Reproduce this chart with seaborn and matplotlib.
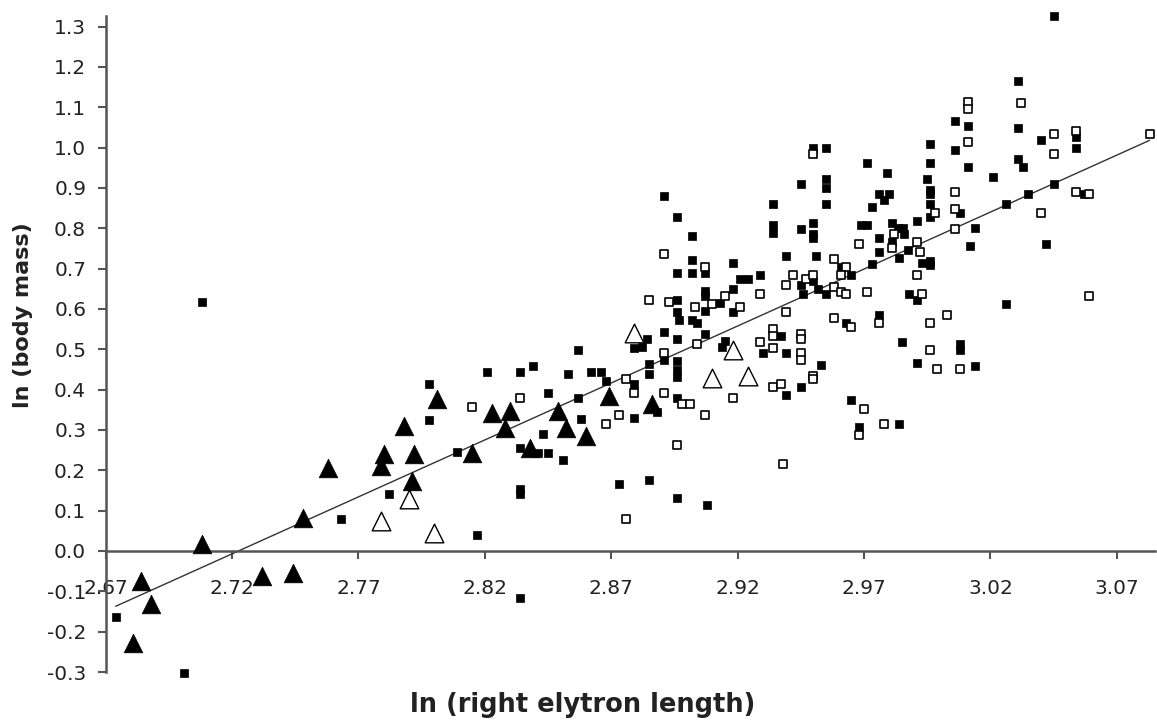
import matplotlib
matplotlib.use("Agg")
import matplotlib.pyplot as plt
import seaborn as sns
import numpy as np

# filled squares
sq_fill_x = [2.674, 2.708, 2.701, 2.763, 2.782, 2.798, 2.798, 2.809, 2.821, 2.834,
             2.839, 2.834, 2.834, 2.834, 2.817, 2.834, 2.845, 2.843, 2.841, 2.845,
             2.851, 2.857, 2.853, 2.862, 2.866, 2.857, 2.858, 2.868, 2.879, 2.879,
             2.873, 2.885, 2.884, 2.882, 2.879, 2.885, 2.885, 2.891, 2.891, 2.888,
             2.896, 2.896, 2.897, 2.902, 2.904, 2.907, 2.907, 2.913, 2.915, 2.918,
             2.914, 2.896, 2.896, 2.896, 2.896, 2.896, 2.896, 2.908, 2.891, 2.896,
             2.902, 2.902, 2.896, 2.902, 2.907, 2.907, 2.907, 2.918, 2.921, 2.924,
             2.918, 2.950, 2.955, 2.971, 2.979, 2.945, 2.955, 2.955, 2.976, 2.980,
             2.978, 2.934, 2.955, 2.973, 2.950, 2.934, 2.934, 2.945, 2.950, 2.950,
             2.969, 2.971, 2.981, 2.9835, 2.9855, 2.9858, 2.991, 2.976, 2.981, 2.976,
             2.984, 2.939, 2.951, 2.973, 2.965, 2.961, 2.929, 2.945, 2.950, 2.952,
             2.955, 2.946, 2.963, 2.976, 2.985, 2.937, 2.930, 2.939, 2.953, 2.945,
             2.939, 2.965, 2.968, 2.984, 3.045, 3.031, 3.031, 3.006, 3.011, 2.996,
             3.006, 3.040, 3.054, 3.054, 2.996, 3.011, 3.031, 3.033, 3.021, 2.995,
             2.996, 2.996, 2.996, 2.996, 3.008, 3.026, 3.035, 3.045, 3.057, 3.014,
             3.012, 3.042, 2.9875, 2.993, 2.996, 2.996, 2.988, 2.991, 3.026, 3.008,
             3.008, 2.991, 3.014]
sq_fill_y = [-0.164, 0.618, -0.303, 0.079, 0.141, 0.414, 0.325, 0.246, 0.444, 0.444,
             0.459, 0.256, 0.154, 0.141, 0.040, -0.117, 0.392, 0.290, 0.243, 0.243,
             0.226, 0.499, 0.439, 0.444, 0.444, 0.380, 0.328, 0.422, 0.415, 0.330,
             0.166, 0.176, 0.526, 0.506, 0.504, 0.464, 0.439, 0.544, 0.474, 0.345,
             0.623, 0.593, 0.573, 0.573, 0.564, 0.596, 0.539, 0.615, 0.521, 0.593,
             0.506, 0.526, 0.472, 0.449, 0.432, 0.380, 0.132, 0.114, 0.879, 0.829,
             0.782, 0.722, 0.690, 0.690, 0.690, 0.645, 0.633, 0.715, 0.673, 0.673,
             0.650, 0.998, 0.998, 0.961, 0.936, 0.909, 0.921, 0.901, 0.886, 0.884,
             0.871, 0.861, 0.861, 0.852, 0.814, 0.807, 0.789, 0.797, 0.787, 0.775,
             0.809, 0.809, 0.814, 0.800, 0.800, 0.785, 0.817, 0.777, 0.765, 0.742,
             0.727, 0.732, 0.732, 0.712, 0.683, 0.705, 0.683, 0.660, 0.670, 0.650,
             0.638, 0.636, 0.566, 0.586, 0.519, 0.534, 0.492, 0.492, 0.462, 0.407,
             0.387, 0.375, 0.308, 0.315, 1.326, 1.164, 1.048, 1.065, 1.053, 1.008,
             0.995, 1.020, 1.025, 0.998, 0.961, 0.951, 0.971, 0.953, 0.926, 0.921,
             0.896, 0.884, 0.861, 0.827, 0.837, 0.859, 0.886, 0.909, 0.886, 0.800,
             0.755, 0.760, 0.745, 0.715, 0.720, 0.708, 0.638, 0.622, 0.613, 0.514,
             0.499, 0.467, 0.459]

# open squares
sq_open_x = [2.815, 2.834, 2.876, 2.885, 2.893, 2.903, 2.910, 2.915, 2.921, 2.904,
             2.891, 2.876, 2.879, 2.891, 2.898, 2.901, 2.873, 2.868, 2.918, 2.907,
             2.896, 2.891, 2.907, 2.950, 2.982, 2.981, 2.968, 2.958, 2.963, 2.961,
             2.942, 2.939, 2.947, 2.950, 2.929, 2.958, 2.961, 2.963, 2.971, 2.939,
             2.958, 2.965, 2.976, 2.934, 2.934, 2.929, 2.945, 2.945, 2.934, 2.945,
             2.945, 2.950, 2.950, 2.934, 2.937, 2.970, 2.978, 2.968, 2.938, 3.011,
             3.011, 3.032, 3.011, 3.045, 3.054, 3.045, 3.083, 3.006, 3.006, 2.998,
             3.006, 3.040, 3.054, 3.059, 2.991, 2.992, 2.991, 2.993, 3.059, 3.003,
             2.996, 2.996, 2.999, 3.008]
sq_open_y = [0.357, 0.380, 0.079, 0.623, 0.618, 0.606, 0.613, 0.633, 0.606, 0.514,
             0.492, 0.427, 0.392, 0.392, 0.365, 0.365, 0.338, 0.315, 0.380, 0.338,
             0.263, 0.737, 0.705, 0.985, 0.787, 0.752, 0.760, 0.725, 0.705, 0.683,
             0.683, 0.660, 0.673, 0.685, 0.636, 0.655, 0.643, 0.638, 0.643, 0.593,
             0.578, 0.556, 0.566, 0.551, 0.534, 0.519, 0.539, 0.526, 0.504, 0.492,
             0.474, 0.434, 0.427, 0.407, 0.415, 0.353, 0.315, 0.288, 0.216, 1.112,
             1.095, 1.110, 1.015, 1.033, 1.040, 0.985, 1.033, 0.891, 0.847, 0.837,
             0.797, 0.837, 0.891, 0.884, 0.767, 0.742, 0.683, 0.636, 0.631, 0.586,
             0.564, 0.499, 0.452, 0.452]

# filled triangles
tri_fill_x = [2.684, 2.681, 2.688, 2.708, 2.732, 2.744, 2.748, 2.758, 2.779, 2.780,
              2.788, 2.792, 2.791, 2.801, 2.815, 2.823, 2.830, 2.828, 2.838, 2.849,
              2.852, 2.860, 2.869, 2.886]
tri_fill_y = [-0.074, -0.228, -0.132, 0.017, -0.062, -0.055, 0.082, 0.206, 0.211, 0.241,
              0.310, 0.241, 0.174, 0.377, 0.243, 0.343, 0.348, 0.305, 0.256, 0.348,
              0.305, 0.285, 0.385, 0.365]

# open triangles
tri_open_x = [2.779, 2.790, 2.800, 2.879, 2.910, 2.918, 2.924]
tri_open_y = [0.074, 0.129, 0.045, 0.541, 0.429, 0.497, 0.434]

# fitted line end points
fit_x = [2.674, 3.083]
fit_y = [-0.137, 1.018]

xticks = [2.67, 2.72, 2.77, 2.82, 2.87, 2.92, 2.97, 3.02, 3.07]
yticks = [-0.3, -0.2, -0.1, 0.0, 0.1, 0.2, 0.3, 0.4, 0.5, 0.6, 0.7, 0.8, 0.9,
          1.0, 1.1, 1.2, 1.3]

sns.set_style("white")
plt.rcParams['font.family'] = ['DejaVu Sans']
plt.rcParams['axes.unicode_minus'] = False

fig = plt.figure(figsize=(11.57, 7.24), dpi=100)
ax = fig.add_axes([0.0913, 0.0718, 0.9067, 0.906])

sns.lineplot(x=fit_x, y=fit_y, ax=ax, color='#333333', linewidth=1.0)
sns.scatterplot(x=sq_fill_x, y=sq_fill_y, ax=ax, marker='s', s=36, color='black',
                edgecolor='black', linewidth=0.5, clip_on=False, zorder=3)
sns.scatterplot(x=sq_open_x, y=sq_open_y, ax=ax, marker='s', s=30, color='white',
                edgecolor='black', linewidth=1.2, clip_on=False, zorder=3)
sns.scatterplot(x=tri_fill_x, y=tri_fill_y, ax=ax, marker='^', s=180, color='black',
                edgecolor='black', linewidth=0.5, clip_on=False, zorder=4)
sns.scatterplot(x=tri_open_x, y=tri_open_y, ax=ax, marker='^', s=180, color='white',
                edgecolor='black', linewidth=1.0, clip_on=False, zorder=4)

ax.set_xlim(2.67, 3.085)
ax.set_ylim(-0.3, 1.326)
ax.set_xticks(xticks)
ax.set_xticklabels([f'{v:.2f}' for v in xticks])
ax.set_yticks(yticks)
ax.set_yticklabels([f'{v:.1f}' for v in yticks])

ax.spines['top'].set_visible(False)
ax.spines['right'].set_visible(False)
ax.spines['bottom'].set_position(('data', 0))
for side in ['left', 'bottom']:
    ax.spines[side].set_color('#555555')
    ax.spines[side].set_linewidth(1.8)

ax.tick_params(axis='x', direction='out', length=6, width=1.5, color='#555555',
               pad=14, labelsize=14.5, labelcolor='#222222', bottom=True)
ax.tick_params(axis='y', direction='out', length=6, width=1.5, color='#555555',
               pad=8, labelsize=14.5, labelcolor='#222222', left=True)
ax.grid(False)

ax.set_xlabel('ln (right elytron length)', fontsize=18.5, fontweight='bold', color='#222222')
ax.set_ylabel('ln (body mass)', fontsize=16, fontweight='bold', color='#222222')
ax.xaxis.set_label_coords(0.455, -0.05)
ax.xaxis.label.set_va('center')
ax.yaxis.set_label_coords(-0.079, 0.544)
ax.yaxis.label.set_va('center')

fig.savefig('out.png', dpi=100)
